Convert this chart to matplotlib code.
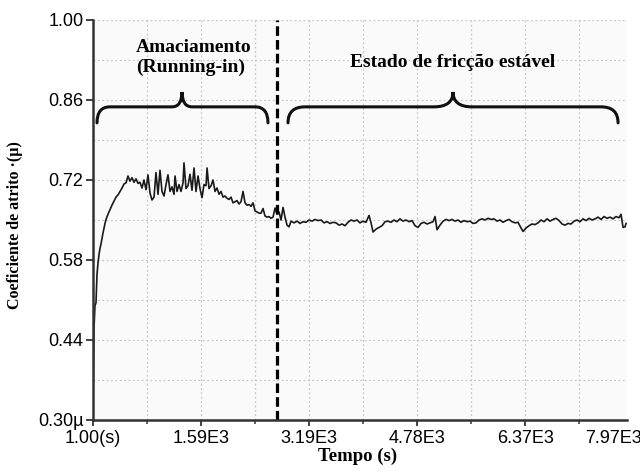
import matplotlib.pyplot as plt
from matplotlib.path import Path
from matplotlib.patches import PathPatch
from matplotlib.ticker import FixedLocator

# tempo (s) e coeficiente de atrito
tempo = [
    1, 16, 30, 45, 60, 75, 90, 104, 119, 134,
    148, 163, 178, 193, 222, 252, 281, 311, 340, 370,
    399, 429, 458, 488, 517, 547, 576, 606, 635, 665,
    694, 724, 753, 783, 812, 842, 871, 901, 930, 960,
    989, 1019, 1048, 1078, 1107, 1137, 1166, 1196, 1211, 1240,
    1270, 1299, 1329, 1343, 1373, 1402, 1432, 1461, 1491, 1520,
    1550, 1579, 1609, 1638, 1668, 1683, 1712, 1742, 1771, 1801,
    1830, 1860, 1889, 1919, 1948, 1978, 2007, 2037, 2066, 2096,
    2125, 2155, 2184, 2214, 2243, 2273, 2302, 2332, 2361, 2391,
    2420, 2450, 2479, 2509, 2538, 2568, 2597, 2627, 2656, 2686,
    2715, 2745, 2774, 2804, 2833, 2863, 2892, 2922,
    2966, 3010, 3054, 3099, 3143, 3187, 3231, 3276, 3320, 3364,
    3408, 3453, 3497, 3541, 3585, 3630, 3674, 3718, 3762, 3807,
    3851, 3895, 3939, 3984, 4028, 4072, 4102, 4131, 4175, 4220,
    4264, 4308, 4352, 4397, 4441, 4485, 4529, 4574, 4618, 4662,
    4706, 4751, 4795, 4839, 4883, 4928, 4972, 5016, 5046, 5075,
    5119, 5164, 5208, 5252, 5296, 5341, 5385, 5429, 5473, 5518,
    5562, 5606, 5650, 5695, 5739, 5783, 5827, 5872, 5916, 5960,
    6004, 6049, 6093, 6137, 6181, 6226, 6270, 6314, 6344, 6388,
    6432, 6476, 6521, 6565, 6609, 6653, 6698, 6742, 6786, 6830,
    6875, 6919, 6963, 7007, 7052, 7096, 7140, 7184, 7229, 7273,
    7317, 7361, 7406, 7450, 7494, 7538, 7583, 7627, 7671, 7715,
    7760, 7789, 7819, 7848, 7863,
]
mu = [
    0.33, 0.46, 0.50, 0.505, 0.555, 0.575, 0.59, 0.60, 0.608, 0.618,
    0.627, 0.636, 0.644, 0.651, 0.66, 0.668, 0.676, 0.683, 0.69, 0.694,
    0.70, 0.706, 0.713, 0.715, 0.727, 0.718, 0.724, 0.716, 0.722, 0.714,
    0.716, 0.706, 0.72, 0.703, 0.729, 0.697, 0.685, 0.69, 0.733, 0.695,
    0.737, 0.70, 0.692, 0.712, 0.729, 0.70, 0.708, 0.695, 0.727, 0.70,
    0.712, 0.70, 0.715, 0.75, 0.705, 0.71, 0.73, 0.702, 0.741, 0.70,
    0.727, 0.705, 0.689, 0.712, 0.71, 0.741, 0.705, 0.71, 0.72, 0.70,
    0.706, 0.695, 0.70, 0.69, 0.692, 0.688, 0.686, 0.69, 0.68, 0.682,
    0.684, 0.678, 0.682, 0.70, 0.68, 0.676, 0.677, 0.674, 0.68, 0.666,
    0.664, 0.662, 0.662, 0.67, 0.657, 0.655, 0.656, 0.653, 0.655, 0.671,
    0.66, 0.664, 0.65, 0.672, 0.655, 0.641, 0.638, 0.648,
    0.645, 0.648, 0.644, 0.647, 0.646, 0.650, 0.648, 0.651, 0.649, 0.650,
    0.645, 0.647, 0.644, 0.646, 0.645, 0.641, 0.643, 0.640, 0.646, 0.650,
    0.648, 0.650, 0.645, 0.648, 0.646, 0.658, 0.645, 0.629, 0.634, 0.637,
    0.640, 0.647, 0.648, 0.646, 0.650, 0.647, 0.652, 0.648, 0.650, 0.647,
    0.649, 0.640, 0.637, 0.644, 0.646, 0.643, 0.645, 0.647, 0.656, 0.633,
    0.641, 0.648, 0.651, 0.649, 0.651, 0.648, 0.650, 0.646, 0.649, 0.647,
    0.648, 0.644, 0.645, 0.650, 0.652, 0.650, 0.653, 0.651, 0.652, 0.648,
    0.650, 0.646, 0.649, 0.651, 0.647, 0.645, 0.646, 0.636, 0.630, 0.636,
    0.640, 0.643, 0.642, 0.645, 0.650, 0.647, 0.652, 0.648, 0.651, 0.653,
    0.649, 0.643, 0.641, 0.644, 0.643, 0.648, 0.650, 0.647, 0.652, 0.649,
    0.653, 0.650, 0.652, 0.655, 0.651, 0.656, 0.653, 0.655, 0.652, 0.656,
    0.654, 0.660, 0.637, 0.638, 0.644,
]

x_ticks = [1, 1595, 3189, 4782, 6376, 7970]
x_labels = ["1.00(s)", "1.59E3", "3.19E3", "4.78E3", "6.37E3", "7.97E3"]
y_ticks = [0.30, 0.44, 0.58, 0.72, 0.86, 1.00]
y_labels = ["0.30µ", "0.44", "0.58", "0.72", "0.86", "1.00"]
t_transicao = 2715

sans = "Liberation Sans"
serif = "Liberation Serif"


def chave(ax, xl, xr, xm, y_ponta, y_barra, y_topo, w1, w2):
    verts = [(xl, y_ponta), (xl, y_barra), (xl + w1, y_barra),
             (xm - w2, y_barra), (xm, y_barra), (xm, y_topo),
             (xm, y_barra), (xm + w2, y_barra),
             (xr - w1, y_barra), (xr, y_barra), (xr, y_ponta)]
    codes = [Path.MOVETO, Path.CURVE3, Path.CURVE3,
             Path.LINETO, Path.CURVE3, Path.CURVE3,
             Path.CURVE3, Path.CURVE3,
             Path.LINETO, Path.CURVE3, Path.CURVE3]
    ax.add_patch(PathPatch(Path(verts, codes), fill=False, lw=2.2,
                           edgecolor="#111111", capstyle="round"))


fig = plt.figure(figsize=(6.4, 4.72), dpi=100)
ax = fig.add_axes([93 / 640, 52 / 472, 534 / 640, 400 / 472])
ax.set_facecolor("#fafafa")

ax.plot(tempo, mu, color="#1a1a1a", lw=1.2)
ax.axvline(t_transicao, color="black", lw=2.3, linestyle=(0, (3, 1.3)))

ax.set_xlim(1, 7877)
ax.set_ylim(0.30, 1.00)

ax.set_xticks(x_ticks[:-1])
ax.set_xticklabels(x_labels[:-1], fontfamily=sans, fontsize=13)
meios = [(a + b) / 2 for a, b in zip(x_ticks[:-1], x_ticks[1:])]
ax.xaxis.set_minor_locator(FixedLocator(meios))
ax.set_yticks(y_ticks)
ax.set_yticklabels(y_labels, fontfamily=sans, fontsize=13)
ax.yaxis.set_minor_locator(FixedLocator([0.37, 0.51, 0.65, 0.79, 0.93]))

ax.tick_params(axis="x", which="major", length=4, width=1.3, pad=3, color="#333333")
ax.tick_params(axis="x", which="minor", length=3, width=1.1, color="#333333")
ax.tick_params(axis="y", which="major", length=5, width=1.3, pad=2, color="#333333")
ax.tick_params(axis="y", which="minor", length=0)

# o último rótulo foi deslocado para a esquerda e fica cortado na borda
ax.annotate(x_labels[-1], xy=(7262, 0), xycoords=("data", "axes fraction"),
            xytext=(0, -7), textcoords="offset points", ha="left", va="top",
            fontfamily=sans, fontsize=13, annotation_clip=False)

ax.grid(True, which="both", linestyle=(0, (1.5, 2)), color="#c8c8c8", lw=0.9)
ax.set_axisbelow(True)

for lado in ["top", "right"]:
    ax.spines[lado].set_visible(False)
for lado in ["left", "bottom"]:
    ax.spines[lado].set_color("#333333")
    ax.spines[lado].set_linewidth(1.8)

ax.set_xlabel("Tempo (s)", fontfamily=serif, fontweight="bold", fontsize=13.5)
ax.xaxis.set_label_coords((358 - 93) / 534, -(448 - 420) / 400)
ax.set_ylabel("Coeficiente de atrito ·(µ)", fontfamily=serif, fontweight="bold", fontsize=11.5)
ax.yaxis.set_label_coords(-(93 - 23) / 534, (420 - 225) / 400)

# chaves e textos
chave(ax, 60, 2582, 1314, 0.820, 0.848, 0.874, 190, 150)
chave(ax, 2877, 7745, 5311, 0.820, 0.848, 0.874, 250, 280)
ax.text(1490, 0.951, "Amaciamento", ha="center", va="center",
        fontfamily=serif, fontweight="bold", fontsize=14)
ax.text(1447, 0.918, "(Running-in)", ha="center", va="center",
        fontfamily=serif, fontweight="bold", fontsize=14)
ax.text(5300, 0.925, "Estado de fricção estável", ha="center", va="center",
        fontfamily=serif, fontweight="bold", fontsize=14)

fig.savefig("out.png", dpi=100)
